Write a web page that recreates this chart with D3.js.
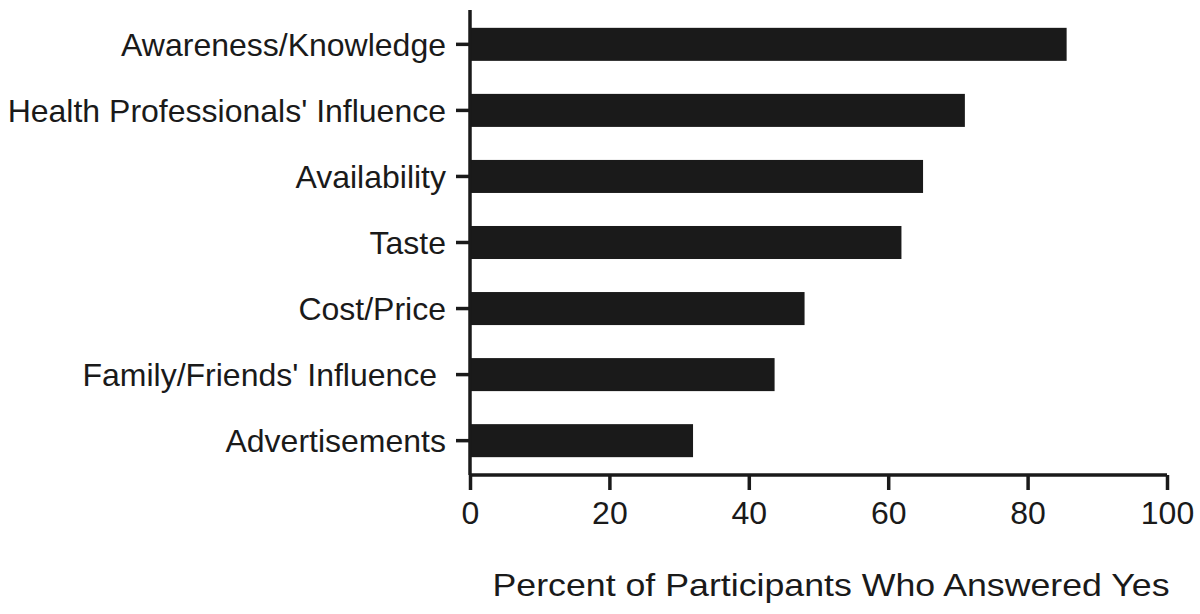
<!DOCTYPE html>
<html>
<head>
<meta charset="utf-8">
<script src="https://cdn.jsdelivr.net/npm/d3@7"></script>
<style>
  body { margin: 0; background: #fff; }
  text { font-family: "Liberation Sans", Arial, sans-serif; fill: #1a1a1a; }
</style>
</head>
<body>
<div id="chart"></div>
<script>
var categories = ["Awareness/Knowledge", "Health Professionals' Influence", "Availability", "Taste",
    "Cost/Price", "Family/Friends' Influence ", "Advertisements"];
var percentYes = [85.6, 71.0, 65.0, 61.9, 48.0, 43.7, 32.0];
var xTicks = [0, 20, 40, 60, 80, 100];

var data = categories.map(function(c, i) { return {label: c, value: percentYes[i]}; });

var margin = {top: 10, right: 32, bottom: 139, left: 470};
var width = 1200 - margin.left - margin.right,
    height = 614 - margin.top - margin.bottom;

var svg = d3.select("#chart").append("svg")
    .attr("width", 1200)
    .attr("height", 614)
    .append("g")
    .attr("transform", "translate(" + margin.left + "," + margin.top + ")");

var x = d3.scaleLinear().domain([0, 100]).range([0, 697]);
var y = d3.scaleBand().domain(categories).range([0, height])
    .paddingInner(0.5).paddingOuter(0.27);

// bars
svg.selectAll(".bar")
    .data(data)
    .enter()
    .append("rect")
    .attr("class", "bar")
    .attr("x", 0)
    .attr("y", function(d) { return y(d.label); })
    .attr("width", function(d) { return x(d.value); })
    .attr("height", y.bandwidth())
    .style("fill", "#1a1a1a");

var yAxis = d3.axisLeft(y).tickSize(14).tickPadding(10).tickSizeOuter(0);
var xAxis = d3.axisBottom(x).tickValues(xTicks).tickSize(15).tickPadding(8).tickSizeOuter(0);

var gy = svg.append("g").attr("class", "y-axis").call(yAxis);
gy.selectAll("text").style("font-size", "32px").style("white-space", "pre").attr("dy", "0.36em");

var gx = svg.append("g").attr("class", "x-axis")
    .attr("transform", "translate(0," + height + ")")
    .call(xAxis);
gx.selectAll("text").style("font-size", "32px").attr("dy", "0.82em");

svg.selectAll(".domain, .tick line")
    .style("stroke", "#1a1a1a")
    .style("stroke-width", "3.5px");
gy.select(".domain").attr("d", "M0,0V" + height);
gx.select(".domain").attr("d", "M0,0H" + x(100));

svg.append("text")
    .attr("x", 361)
    .attr("y", height + 121)
    .attr("textLength", 677)
    .attr("lengthAdjust", "spacingAndGlyphs")
    .style("text-anchor", "middle")
    .style("font-size", "32px")
    .text("Percent of Participants Who Answered Yes");
</script>
</body>
</html>
